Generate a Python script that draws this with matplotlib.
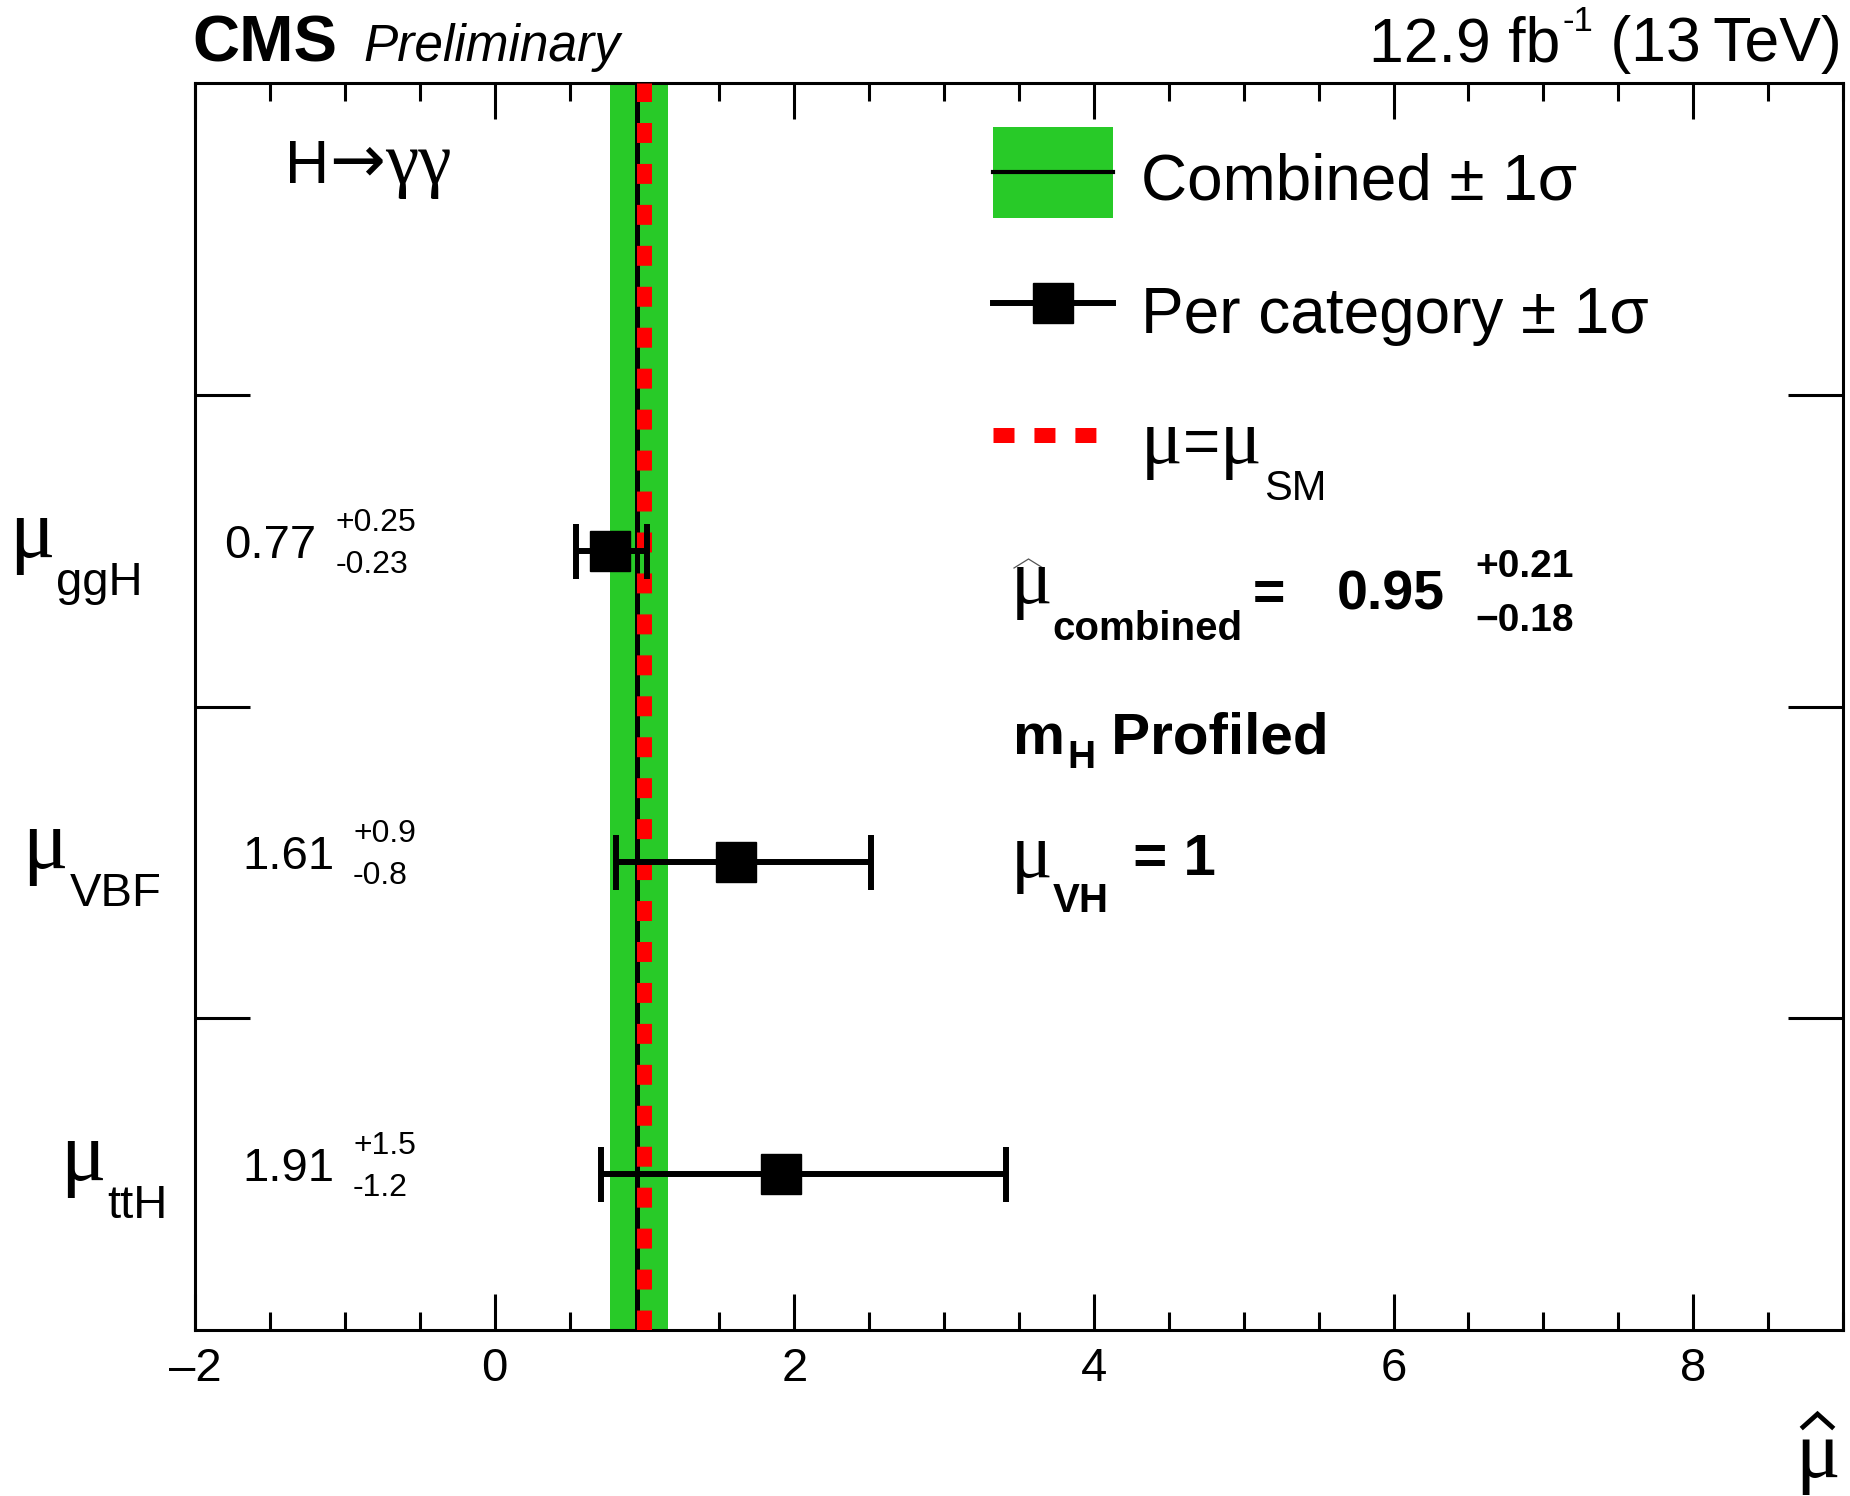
import matplotlib
matplotlib.use("Agg")
import matplotlib.pyplot as plt
from matplotlib.ticker import MultipleLocator, FixedLocator, NullFormatter, NullLocator, FuncFormatter
from matplotlib.lines import Line2D
from matplotlib.patches import Rectangle

# ---------------- data ----------------
categories = ["ggH", "VBF", "ttH"]
mu_best = [0.77, 1.61, 1.91]
err_up = [0.25, 0.9, 1.5]
err_dn = [0.23, 0.8, 1.2]
err_digits = [2, 1, 1]

comb_mu = 0.95
comb_up = 0.21
comb_dn = 0.18
sm_mu = 1.0

x_range = (-2, 9)

# ---------------- style ----------------
SANS = "Liberation Sans"
SERIF = "Liberation Serif"
GREEN = "#28ca28"
RED = "#ff0000"
plt.rcParams["font.family"] = [SANS, "DejaVu Sans"]

W, H = 1850, 1496
fig = plt.figure(figsize=(W / 100, H / 100), dpi=100)
renderer = fig.canvas.get_renderer()

ax_left, ax_right, ax_top, ax_bottom = 195, 1843, 83, 1330
ax = fig.add_axes([ax_left / W, 1 - ax_bottom / H,
                   (ax_right - ax_left) / W, (ax_bottom - ax_top) / H])
ax.set_xlim(*x_range)
ax.set_ylim(0, len(categories) + 1)

# combined band, best fit and SM reference
ax.axvspan(comb_mu - comb_dn, comb_mu + comb_up, color=GREEN, lw=0, zorder=1)
ax.axvline(comb_mu, color="k", lw=3.6, zorder=2)
ax.axvline(sm_mu, color=RED, lw=10.8, ls=(0, (1.33, 1.4)),
           dash_capstyle="butt", zorder=3)

# per-category measurements
ys = [len(categories) - i - 0.5 for i in range(len(categories))]
ax.errorbar(mu_best, ys, xerr=[err_dn, err_up], fmt="s", color="k",
            ms=28.8, elinewidth=4.3, capsize=19.8, capthick=4.3, zorder=5)

# axes cosmetics
for sp in ax.spines.values():
    sp.set_linewidth(2.2)
ax.xaxis.set_major_locator(MultipleLocator(2))
ax.xaxis.set_minor_locator(MultipleLocator(0.5))
ax.xaxis.set_major_formatter(FuncFormatter(lambda v, p: f"{v:g}".replace("-", "\u2013")))
ax.yaxis.set_major_locator(FixedLocator([1, 2, 3]))
ax.yaxis.set_major_formatter(NullFormatter())
ax.yaxis.set_minor_locator(NullLocator())
ax.tick_params(axis="x", which="major", direction="in", length=26, width=2.2,
               top=True, bottom=True, labelsize=34, pad=12)
ax.tick_params(axis="x", which="minor", direction="in", length=13, width=2.2,
               top=True, bottom=True)
ax.tick_params(axis="y", which="major", direction="in", length=39.6, width=2.2,
               left=True, right=True)


# ---------------- text helpers (figure pixels, y from top, baseline) ----------------
def fpos(x, y):
    return x / W, 1 - y / H


def put(s, x, y, ha="left", **kw):
    return fig.text(*fpos(x, y), s, ha=ha, va="baseline", **kw)


def width(t):
    return t.get_window_extent(renderer).width


def flow(parts, x, y, ha="left"):
    """parts: (string, props, baseline shift px, gap px before)."""
    objs = [fig.text(0, 0, s, ha="left", va="baseline", **p) for s, p, dy, g in parts]
    ws = [width(o) for o in objs]
    total = sum(ws) + sum(g for _, _, _, g in parts)
    cur = x if ha == "left" else x - total
    for o, (s, p, dy, g), w in zip(objs, parts, ws):
        cur += g
        o.set_position(fpos(cur, y + dy))
        cur += w
    return objs, ws


def hat(x0, x1, ytop, ybot, lw, color="k"):
    fig.add_artist(Line2D([x0 / W, (x0 + x1) / 2 / W, x1 / W],
                          [1 - ybot / H, 1 - ytop / H, 1 - ybot / H],
                          transform=fig.transFigure, color=color, lw=lw,
                          solid_joinstyle="miter"))


def ypx(yv):
    return H - ax.transData.transform((0, yv))[1]


serif = dict(family=SERIF)
sans = dict(family=SANS)

# ---------------- header ----------------
put("CMS", 192, 61, fontsize=47, fontweight="bold", family=SANS)
put("Preliminary", 363, 61, fontsize=37, style="italic", family=SANS)
flow([("12.9 fb", dict(fontsize=45, **sans), 0, 0),
      ("-1", dict(fontsize=25, **sans), -30, 2),
      (" (13\u2009TeV)", dict(fontsize=45, family=[SANS, "DejaVu Sans"]), 0, 0)],
     1842, 61, ha="right")

# ---------------- process label ----------------
flow([("H", dict(fontsize=44, **sans), 0, 0),
      ("\u2192", dict(fontsize=48, family="DejaVu Sans"), -2, 0),
      ("\u03b3\u03b3", dict(fontsize=54, **serif), 0, 0)],
     285, 183)

# ---------------- per-category labels and values ----------------
label_left_px = [9, 22, 60]
for i, cat in enumerate(categories):
    yc = ypx(ys[i])
    flow([("\u03bc", dict(fontsize=61, **serif), 0, 0),
          (cat, dict(fontsize=34, **sans), 38, 2)],
         label_left_px[i], yc + 6)

    d = err_digits[i]
    sup = put(f"+{err_up[i]:.{d}f}", 0, yc - 20, fontsize=23, family=SANS)
    sub = put(f"-{err_dn[i]:.{d}f}", 0, yc + 22, fontsize=23, family=SANS)
    sx = 416 - max(width(sup), width(sub))
    sup.set_position(fpos(sx, yc - 20))
    sub.set_position(fpos(sx, yc + 22))
    put(f"{mu_best[i]:.2f}", sx - 19, yc + 7, ha="right", fontsize=34, family=SANS)

# ---------------- legend ----------------
fig.add_artist(Rectangle(fpos(993, 218), 120 / W, 91 / H, transform=fig.transFigure,
                         facecolor=GREEN, edgecolor="none"))
fig.add_artist(Line2D([993 / W, 1113 / W], [1 - 172 / H] * 2, transform=fig.transFigure,
                      color="k", lw=3.0))
put("Combined \u00b1 1\u03c3", 1141, 200, fontsize=46, family=SANS)

fig.add_artist(Line2D([993 / W, 1113 / W], [1 - 303 / H] * 2, transform=fig.transFigure,
                      color="k", lw=4.3))
fig.add_artist(Line2D([1053 / W], [1 - 303 / H], transform=fig.transFigure,
                      marker="s", ms=28.8, color="k", lw=0))
put("Per category \u00b1 1\u03c3", 1141, 333, fontsize=46, family=SANS)

fig.add_artist(Line2D([993 / W, 1096 / W], [1 - 434.5 / H] * 2, transform=fig.transFigure,
                      color=RED, lw=10.8, ls=(0, (1.4, 1.33)), dash_capstyle="butt"))
flow([("\u03bc", dict(fontsize=56, **serif), 0, 0),
      ("=", dict(fontsize=46, **sans), 0, 0),
      ("\u03bc", dict(fontsize=56, **serif), 0, 0),
      ("SM", dict(fontsize=30, **sans), 37, 3)],
     1141, 463)

# combined result
objs, ws = flow([("\u03bc", dict(fontsize=56, **serif), 0, 0),
                 ("combined", dict(fontsize=29, fontweight="bold", **sans), 37, 0)],
                1011, 603)
hat(1014, 1043, 559, 568, lw=0.9, color="#555555")
put("=", 1253, 610, fontsize=40, fontweight="bold", family=SANS)
put(f"{comb_mu:.2f}", 1337, 610, fontsize=40, fontweight="bold", family=SANS)
put(f"+{comb_up:.2f}", 1475, 577, fontsize=28, fontweight="bold", family=SANS)
put(f"\u2212{comb_dn:.2f}", 1475, 631, fontsize=28, fontweight="bold", family=SANS)

flow([("m", dict(fontsize=42, fontweight="bold", **sans), 0, 0),
      ("H", dict(fontsize=28, fontweight="bold", **sans), 14, 2),
      (" Profiled", dict(fontsize=42, fontweight="bold", **sans), 0, 0)],
     1013, 754)

flow([("\u03bc", dict(fontsize=56, **serif), 0, 0),
      ("VH", dict(fontsize=29, fontweight="bold", **sans), 35, 0),
      (" = 1", dict(fontsize=42, fontweight="bold", **sans), -2, 8)],
     1011, 877)

# ---------------- x-axis title ----------------
mu_x = put("\u03bc", 1840, 1477, ha="right", fontsize=60, family=SERIF)
hat(1803, 1832, 1414, 1427, lw=3.4)

fig.savefig("out.png", dpi=100)
